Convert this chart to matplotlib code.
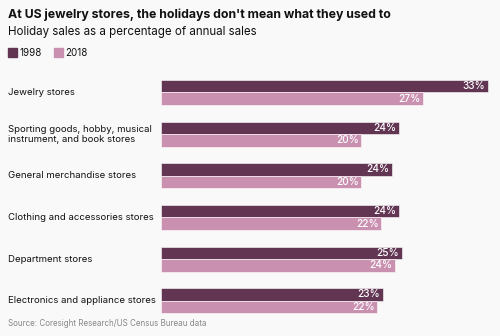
import matplotlib
matplotlib.use("Agg")
import matplotlib.pyplot as plt
import numpy as np

categories = [
    "Jewelry stores",
    "Sporting goods, hobby, musical\ninstrument, and book stores",
    "General merchandise stores",
    "Clothing and accessories stores",
    "Department stores",
    "Electronics and appliance stores",
]
vals_1998 = [33.0, 24.0, 23.3, 24.0, 24.3, 22.4]
vals_2018 = [26.4, 20.2, 20.2, 22.2, 23.6, 21.8]
labels_1998 = ["33%", "24%", "24%", "24%", "25%", "23%"]
labels_2018 = ["27%", "20%", "20%", "22%", "24%", "22%"]

BG = "#f9f9f9"
DARK = "#623553"
LIGHT = "#c990b0"
FONT = "Inter"

fig = plt.figure(figsize=(5, 3.36), dpi=100, facecolor=BG)
ax = fig.add_axes([0.322, 0.043, 0.658, 0.744], facecolor=BG)

y = np.arange(len(categories))
h = 0.3
b1 = ax.barh(y - h / 2, vals_1998, height=h, color=DARK, edgecolor="white", linewidth=0.4)
b2 = ax.barh(y + h / 2, vals_2018, height=h, color=LIGHT, edgecolor="white", linewidth=0.4)

# white value labels inside bar ends
for bars, labs in ((b1, labels_1998), (b2, labels_2018)):
    for bar, lab in zip(bars, labs):
        ax.text(bar.get_width() - 0.25, bar.get_y() + bar.get_height() / 2, lab,
                ha="right", va="center", color="white", fontsize=7.3,
                fontweight="medium", family=FONT)

ax.set_xlim(0, 33.2)
ax.set_ylim(len(categories) - 0.5, -0.5)
ax.set_xticks([])
ax.set_yticks([])
for s in ax.spines.values():
    s.set_visible(False)

trans = matplotlib.transforms.blended_transform_factory(fig.transFigure, ax.transData)
for yi, cat in zip(y, categories):
    ax.text(8 / 500, yi, cat, transform=trans, ha="left", va="center",
            fontsize=6.9, family=FONT, color="#111111", linespacing=1.15)

fig.text(8 / 500, 1 - 15 / 336, "At US jewelry stores, the holidays don't mean what they used to",
         ha="left", va="center", fontsize=8.9, fontweight="bold", family=FONT, color="#111111")
fig.text(8 / 500, 1 - 32 / 336, "Holiday sales as a percentage of annual sales",
         ha="left", va="center", fontsize=8.3, family=FONT, color="#111111")

# legend
for x0, col, lab in ((8, DARK, "1998"), (54, LIGHT, "2018")):
    fig.patches.append(plt.Rectangle((x0 / 500, 1 - 57 / 336), 9 / 500, 9 / 336,
                                     transform=fig.transFigure, color=col))
    fig.text((x0 + 11) / 500, 1 - 52.5 / 336, lab, ha="left", va="center",
             fontsize=7, family=FONT, color="#111111")

fig.text(8 / 500, 1 - 323.5 / 336, "Source: Coresight Research/US Census Bureau data",
         ha="left", va="center", fontsize=5.8, family=FONT, color="#888888")

fig.savefig("out.png", dpi=100, facecolor=BG)
